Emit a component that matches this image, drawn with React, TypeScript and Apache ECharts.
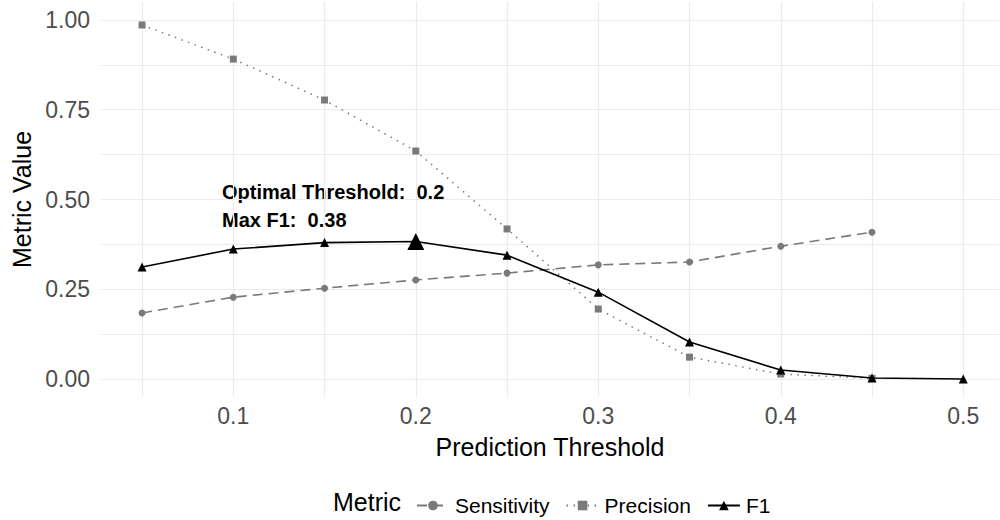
import React, { useEffect, useRef } from "react";
import * as echarts from "echarts";

const thresholds = [0.05, 0.1, 0.15, 0.2, 0.25, 0.3, 0.35, 0.4, 0.45, 0.5];
const sensitivity = [0.184, 0.228, 0.253, 0.276, 0.295, 0.318, 0.326, 0.37, 0.409, null];
const precision = [0.986, 0.891, 0.777, 0.635, 0.418, 0.195, 0.061, 0.014, 0.002, null];
const f1 = [0.312, 0.362, 0.38, 0.383, 0.345, 0.242, 0.103, 0.025, 0.003, 0.0];
const optimalThreshold = 0.2;
const maxF1 = 0.38;
const xTickLabels = [0.1, 0.2, 0.3, 0.4, 0.5];
const xGridValues = [0.05, 0.1, 0.15, 0.2, 0.25, 0.3, 0.35, 0.4, 0.45, 0.5];
const yTickLabels = [0, 0.25, 0.5, 0.75, 1];
const yGridValues = [0, 0.125, 0.25, 0.375, 0.5, 0.625, 0.75, 0.875, 1];

const FONT = "'Liberation Sans', Arial, Helvetica, sans-serif";
const GREY = "#7a7a7a";

export default function App() {
  const ref = useRef<HTMLDivElement>(null);
  useEffect(() => {
    if (!ref.current) return;
    const chart = echarts.init(ref.current, null, { renderer: "svg" });
    const pair = (arr: (number | null)[]) =>
      thresholds.map((t, i) => (arr[i] == null ? [t, null] : [t, arr[i]]));
    const f1Data = thresholds.map((t, i) =>
      t === optimalThreshold
        ? { value: [t, f1[i]], symbolSize: 17 }
        : { value: [t, f1[i]] }
    );
    chart.setOption({
      animation: false,
      textStyle: { fontFamily: FONT },
      grid: { left: 101, right: 1, top: 2, height: 395, containLabel: false },
      xAxis: {
        type: "value",
        min: 0.0275,
        max: 0.5196,
        name: "Prediction Threshold",
        nameLocation: "middle",
        nameGap: 37,
        nameTextStyle: { fontSize: 25, color: "#000", fontFamily: FONT },
        axisLine: { show: false },
        axisTick: { show: false, customValues: xGridValues },
        axisLabel: {
          customValues: xTickLabels,
          fontSize: 23,
          color: "#4d4d4d",
          margin: 7,
          fontFamily: FONT,
          formatter: (v: number) => String(+v.toFixed(2)),
        },
        splitLine: { show: true, lineStyle: { color: "#ebebeb", width: 1.2 } },
      },
      yAxis: {
        type: "value",
        min: -0.05,
        max: 1.05,
        name: "Metric Value",
        nameLocation: "middle",
        nameGap: 61,
        nameTextStyle: { fontSize: 25, color: "#000", fontFamily: FONT },
        axisLine: { show: false },
        axisTick: { show: false, customValues: yGridValues },
        axisLabel: {
          customValues: yTickLabels,
          fontSize: 23,
          color: "#4d4d4d",
          margin: 11,
          fontFamily: FONT,
          formatter: (v: number) => v.toFixed(2),
        },
        splitLine: { show: true, lineStyle: { color: "#ebebeb", width: 1.2 } },
      },
      legend: {
        left: 411,
        top: 490,
        itemWidth: 32,
        itemHeight: 12,
        itemGap: 16,
        textStyle: { fontSize: 21, color: "#000", fontFamily: FONT, padding: [0, 0, 0, 1] },
        data: ["Sensitivity", "Precision", "F1"],
      },
      graphic: [
        {
          type: "text",
          left: 333,
          top: 489,
          style: { text: "Metric", fontSize: 25, fill: "#000", fontFamily: FONT },
        },
        {
          type: "text",
          left: 222,
          top: 178,
          style: {
            text: `Optimal Threshold:  ${optimalThreshold}\nMax F1:  ${maxF1}`,
            fontSize: 20,
            fontWeight: "bold",
            lineHeight: 28,
            fill: "#000",
            fontFamily: FONT,
          },
        },
      ],
      series: [
        {
          name: "Sensitivity",
          type: "line",
          data: pair(sensitivity),
          symbol: "circle",
          symbolSize: 7,
          itemStyle: { color: GREY },
          lineStyle: { color: GREY, width: 1.6, type: [10, 6] },
          connectNulls: false,
        },
        {
          name: "Precision",
          type: "line",
          data: pair(precision),
          symbol: "rect",
          symbolSize: 7,
          itemStyle: { color: GREY },
          lineStyle: { color: GREY, width: 1.5, type: [1.5, 5.5] },
        },
        {
          name: "F1",
          type: "line",
          data: f1Data,
          symbol: "triangle",
          symbolSize: 9,
          itemStyle: { color: "#000" },
          lineStyle: { color: "#000", width: 1.6 },
          z: 5,
        },
      ],
    });
    return () => chart.dispose();
  }, []);
  return <div ref={ref} style={{ width: 1000, height: 520, position: "absolute", left: 0, top: 0 }} />;
}
